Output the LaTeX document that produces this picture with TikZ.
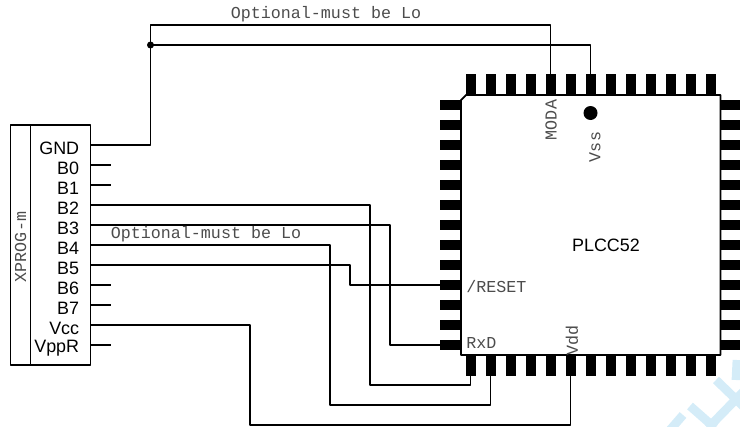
\documentclass[tikz,border=0pt]{standalone}
\usepackage{fontspec}
\setmainfont{Liberation Sans}
\newfontfamily\monofont{Liberation Mono}
\definecolor{markblue}{HTML}{D4ECF8}
\tikzset{
	wire/.style={line width=0.85pt},
	stub/.style={line width=1.1pt},
	outline/.style={line width=1pt},
	mark stroke/.style={draw=markblue, line width=5pt},
	pinlab/.style={anchor=east, font=\fontsize{10.2}{11}\selectfont, inner sep=0pt},
	monolab/.style={font=\monofont\fontsize{9.5}{10}\selectfont, text=black!70, inner sep=0pt}
}
\begin{document}
\begin{tikzpicture}[x=0.02cm, y=-0.02cm, line join=round, line cap=butt,
	declare function={w=5; h=21;}]
	\useasboundingbox (0,0) rectangle (740,426);
	\path
	(10.5,125) coordinate (CA)
	(90.5,365) coordinate (CB)
	(30.5,125) coordinate (CC)
	(30.5,365) coordinate (CD)
	(461,95) coordinate (U1)
	(720.5,355) coordinate (U2)
	(150.5,25) coordinate (TopL)
	(150.5,45) coordinate (Jct)
	(590.5,113) coordinate (Dot)
	;
	% pale mark in the corner
	\draw[mark stroke] (716,380)--(745,408);
	\draw[mark stroke] (690,406)--(715,428);
	\draw[mark stroke] (708,428)--(745,390);
	\draw[mark stroke] (670,430)--(683,415);
	\draw[mark stroke] (737,360)--(736,380);
	% chip body and pins
	\draw[outline] (466,95)--(720.5,95)--(U2)--(461,355)--(461,100)--cycle;
	\foreach \i in {0,...,12}{
	\pgfmathsetmacro{\px}{470.5+20*\i}
	\pgfmathsetmacro{\py}{105+20*\i}
	\fill (\px-w,74) rectangle (\px+w,95);
	\fill (\px-w,355) rectangle (\px+w,376);
	\fill (440,\py-w) rectangle (461,\py+w);
	\fill (720.5,\py-w) rectangle (740,\py+w);
	\path (\px,74) coordinate (T\i) (\px,376) coordinate (B\i) (440,\py) coordinate (L\i);
}
	\fill (Dot) circle (7);
	% connector
	\draw[outline] (CA) rectangle (CB);
	\draw[outline] (CC)--(CD);
	\foreach \n/\t in {0/GND,1/B0,2/B1,3/B2,4/B3,5/B4,6/B5,7/B6,8/B7,9/Vcc,10/VppR}{
	\path (90.5,145+20*\n) coordinate (P\n);
	\node[pinlab] (lab\n) at (79.5,148+20*\n) {\t};
}
	\foreach \n in {1,2,7,8,10}{
	\draw[stub] (P\n)--++(20.5,0);
}
	% wires
	\draw[wire] (P0)-|(Jct)--(TopL)-|(T4);
	\draw[wire] (Jct)-|(T6);
	\fill (Jct) circle (3.5);
	\draw[wire] (P3)-|(370,385)-|(B0);
	\draw[wire] (P4)-|(390,345)--(L12);
	\draw[wire] (P5)-|(330,405)-|(B1);
	\draw[wire] (P6)-|(350,285)--(L9);
	\draw[wire] (P9)-|(250,425)-|(B5);
	% labels
	\node[monolab] (opt1) at (326,14.5) {Optional-must be Lo};
	\node[monolab] (opt2) at (206,234.5) {Optional-must be Lo};
	\node[monolab, rotate=90] (xprog) at (20.5,247) {XPROG-m};
	\node[monolab, rotate=90] (moda) at (551,120) {MODA};
	\node[monolab, rotate=90] (vss) at (595,147) {Vss};
	\node[monolab, rotate=90] (vdd) at (572,340) {Vdd};
	\node[monolab, anchor=west] (reset) at (466,287) {/RESET};
	\node[monolab, anchor=west] (rxd) at (466,343) {RxD};
	\node[font=\fontsize{10.2}{11}\selectfont, inner sep=0pt] (plcc) at (606,245) {PLCC52};
	\end{tikzpicture}
\end{document}
